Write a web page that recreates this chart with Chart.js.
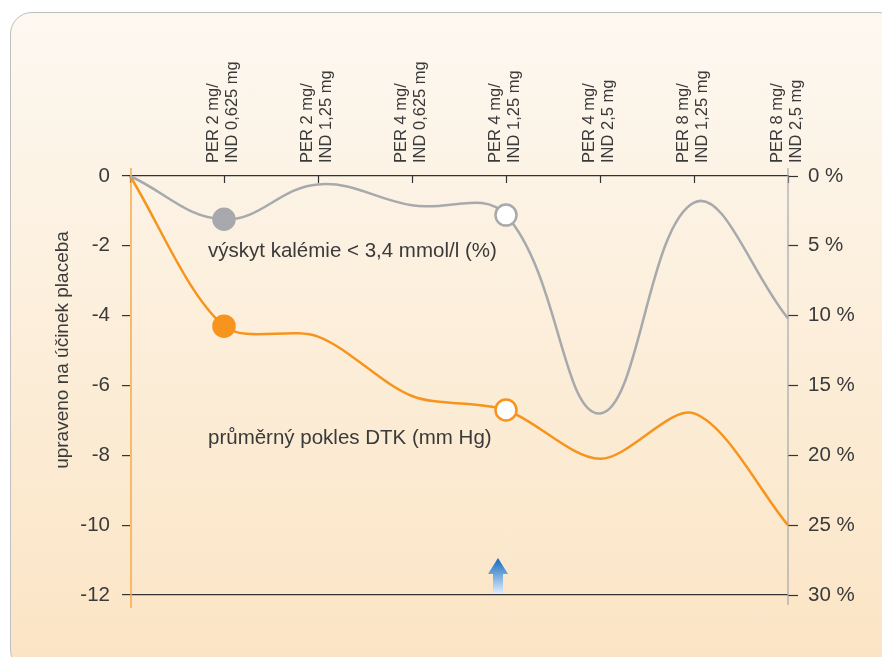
<!DOCTYPE html>
<html lang="cs">
<head>
<meta charset="utf-8">
<script src="https://cdn.jsdelivr.net/npm/chart.js@4/dist/chart.umd.min.js"></script>
<style>
    html, body { margin: 0; padding: 0; background: #fff; overflow: hidden; }
    #panel {
        position: absolute; left: 10px; top: 12px; width: 890px; height: 660px;
        border: 1.5px solid #bfbfbf; border-radius: 22px; box-sizing: border-box;
        background: linear-gradient(to bottom, #fdf8f1 0%, #fcefdc 45%, #fbe4c4 100%);
    }
    #wrap { position: absolute; left: 0; top: 0; width: 882px; height: 657px; }
</style>
</head>
<body>
<div id="panel"></div>
<div id="wrap"><canvas id="graf"></canvas></div>
<script>
// kategorie (první je výchozí bod bez popisku)
const kategorie = [
    "",
    ["PER 2 mg/", "IND 0,625 mg"],
    ["PER 2 mg/", "IND 1,25 mg"],
    ["PER 4 mg/", "IND 0,625 mg"],
    ["PER 4 mg/", "IND 1,25 mg"],
    ["PER 4 mg/", "IND 2,5 mg"],
    ["PER 8 mg/", "IND 1,25 mg"],
    ["PER 8 mg/", "IND 2,5 mg"]
];
// průměrný pokles DTK (mm Hg), levá osa
const poklesDTK = [0, -4.3, -4.6, -6.3, -6.7, -8.1, -6.8, -10.0];
// výskyt kalémie < 3,4 mmol/l (%), pravá osa
const kalemie = [0, 3.1, 0.6, 2.1, 2.8, 17.0, 1.9, 10.2];
// popisky os
const tickyLeva = [0, -2, -4, -6, -8, -10, -12];
const tickyPrava = [0, 5, 10, 15, 20, 25, 30];

const ORANZOVA = "#f7941d";
const SEDA = "#a7a9ac";
const TEXT = "#3a3a3a";
const FONT = "'Liberation Sans', Arial, sans-serif";

// značky: plná v bodě 1, prázdná (bílá) v bodě 4
const polomer = kategorie.map((k, i) => (i === 1 || i === 4) ? 10.5 : 0);
const vyplnOranz = kategorie.map((k, i) => i === 4 ? "#ffffff" : ORANZOVA);
const vyplnSeda = kategorie.map((k, i) => i === 4 ? "#ffffff" : SEDA);

const doplnky = {
    id: "doplnky",
    beforeDatasetsDraw(chart) {
        const { ctx, chartArea } = chart;
        ctx.save();
        // svislé osy
        ctx.lineWidth = 1.5;
        ctx.strokeStyle = "#f7a94c";
        ctx.beginPath();
        ctx.moveTo(chartArea.left + 1, chartArea.top - 8);
        ctx.lineTo(chartArea.left + 1, chartArea.bottom + 13);
        ctx.stroke();
        ctx.lineWidth = 1.2;
        ctx.strokeStyle = "#a3a6aa";
        ctx.beginPath();
        ctx.moveTo(chartArea.right, chartArea.top - 8);
        ctx.lineTo(chartArea.right, chartArea.bottom + 10);
        ctx.stroke();
        ctx.restore();
    },
    afterDatasetsDraw(chart) {
        const { ctx, chartArea, scales } = chart;
        ctx.save();
        // popisky řad
        ctx.fillStyle = TEXT;
        ctx.font = "20.5px " + FONT;
        ctx.textBaseline = "middle";
        ctx.textAlign = "left";
        const xl = scales.x.getPixelForValue(1) - 16;
        ctx.fillText("výskyt kalémie < 3,4 mmol/l (%)", xl, chartArea.top + 75);
        ctx.fillText("průměrný pokles DTK (mm Hg)", xl, chartArea.top + 262);

        // název levé osy
        ctx.save();
        ctx.font = "19px " + FONT;
        ctx.translate(63, 350);
        ctx.rotate(-Math.PI / 2);
        ctx.textAlign = "center";
        ctx.fillText("upraveno na účinek placeba", 0, 0);
        ctx.restore();

        // modrá šipka
        const ax = scales.x.getPixelForValue(4) - 8;
        const ab = chartArea.bottom - 1;
        const at = ab - 36;
        const g = ctx.createLinearGradient(0, at, 0, ab);
        g.addColorStop(0, "#1169c0");
        g.addColorStop(1, "#e4eefb");
        ctx.fillStyle = g;
        ctx.beginPath();
        ctx.moveTo(ax, at);
        ctx.lineTo(ax + 10, at + 16);
        ctx.lineTo(ax + 5, at + 16);
        ctx.lineTo(ax + 5, ab);
        ctx.lineTo(ax - 5, ab);
        ctx.lineTo(ax - 5, at + 16);
        ctx.lineTo(ax - 10, at + 16);
        ctx.closePath();
        ctx.fill();
        ctx.restore();
    }
};

new Chart(document.getElementById("graf"), {
    type: "line",
    data: {
        labels: kategorie,
        datasets: [
            {
                label: "výskyt kalémie < 3,4 mmol/l (%)",
                data: kalemie,
                yAxisID: "y2",
                borderColor: SEDA,
                borderWidth: 2.5,
                tension: 0.4,
                pointRadius: polomer,
                pointBackgroundColor: vyplnSeda,
                pointBorderColor: SEDA,
                pointBorderWidth: 2.5,
                clip: false
            },
            {
                label: "průměrný pokles DTK (mm Hg)",
                data: poklesDTK,
                yAxisID: "y",
                borderColor: ORANZOVA,
                borderWidth: 2.5,
                tension: 0.3,
                pointRadius: polomer,
                pointBackgroundColor: vyplnOranz,
                pointBorderColor: ORANZOVA,
                pointBorderWidth: 2.5,
                clip: false
            }
        ]
    },
    options: {
        responsive: true,
        maintainAspectRatio: false,
        animation: false,
        layout: { padding: { left: 0, right: 0, top: 0, bottom: 62 } },
        plugins: { legend: { display: false }, tooltip: { enabled: false } },
        scales: {
            x: {
                position: "top",
                offset: false,
                afterFit: (s) => { s.height = 176; },
                border: { display: true, color: "#333", width: 1.2 },
                grid: { drawOnChartArea: false, drawTicks: true, tickLength: -7, tickColor: "#333", tickWidth: 1.2 },
                ticks: {
                    autoSkip: false,
                    minRotation: 90,
                    maxRotation: 90,
                    padding: 20,
                    labelOffset: 27,
                    color: TEXT,
                    font: { family: FONT, size: 16.5, lineHeight: 1.15 }
                }
            },
            y: {
                position: "left",
                min: -12,
                max: 0,
                afterFit: (s) => { s.width = 130; },
                afterBuildTicks: (s) => { s.ticks = tickyLeva.map(v => ({ value: v })); },
                border: { display: false },
                grid: {
                    drawOnChartArea: true,
                    color: (c) => (c.tick && c.tick.value === -12) ? "#333" : "rgba(0,0,0,0)",
                    lineWidth: 1.2,
                    tickColor: "#333",
                    tickLength: 8,
                    tickWidth: 1.2
                },
                ticks: {
                    padding: 12,
                    color: TEXT,
                    font: { family: FONT, size: 20.5 }
                }
            },
            y2: {
                position: "right",
                min: 0,
                max: 30,
                reverse: true,
                afterFit: (s) => { s.width = 94; },
                afterBuildTicks: (s) => { s.ticks = tickyPrava.map(v => ({ value: v })); },
                border: { display: false },
                grid: {
                    drawOnChartArea: false,
                    tickColor: "#333",
                    tickLength: 10,
                    tickWidth: 1.2
                },
                ticks: {
                    padding: 10,
                    color: TEXT,
                    font: { family: FONT, size: 20.5 },
                    callback: (v) => v + " %"
                }
            }
        }
    },
    plugins: [doplnky]
});
</script>
</body>
</html>
